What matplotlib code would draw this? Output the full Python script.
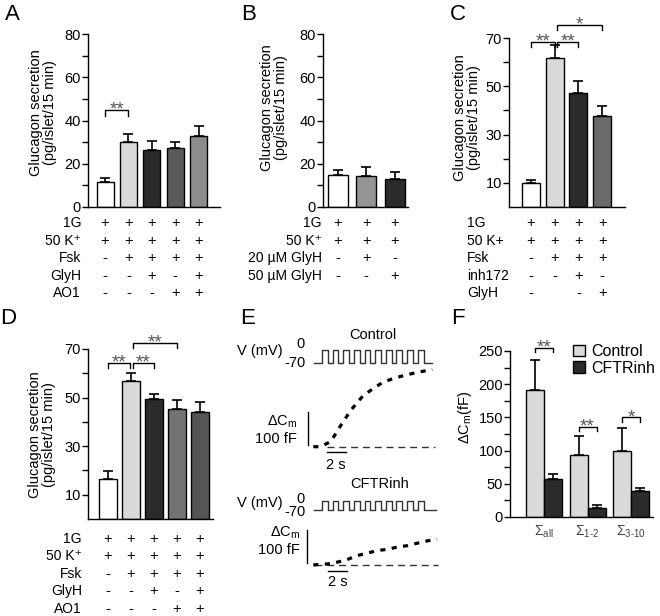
import matplotlib
matplotlib.use("Agg")
import matplotlib.pyplot as plt
import numpy as np
from matplotlib.transforms import blended_transform_factory

plt.rcParams["font.family"] = ["Liberation Sans", "DejaVu Sans"]
plt.rcParams["mathtext.fontset"] = "custom"
plt.rcParams["mathtext.rm"] = "Liberation Sans"
plt.rcParams["axes.linewidth"] = 1.0

W, H = 660, 616

# ---------------- data ----------------
# A
a_vals = [11.6, 30.2, 26.3, 27.1, 32.8]
a_errs = [2.0, 3.4, 4.2, 3.1, 4.7]
a_colors = ["white", "#d9d9d9", "#2b2b2b", "#5a5a5a", "#8c8c8c"]
a_rows = ["1G", "50 K⁺", "Fsk", "GlyH", "AO1"]
a_marks = [["+", "+", "+", "+", "+"],
           ["+", "+", "+", "+", "+"],
           ["-", "+", "+", "+", "+"],
           ["-", "-", "+", "-", "+"],
           ["-", "-", "-", "+", "+"]]

# B
b_vals = [15.0, 14.4, 13.0]
b_errs = [2.0, 3.9, 3.1]
b_colors = ["white", "#959595", "#2b2b2b"]
b_rows = ["1G", "50 K⁺", "20 µM GlyH", "50 µM GlyH"]
b_marks = [["+", "+", "+"],
           ["+", "+", "+"],
           ["-", "+", "-"],
           ["-", "-", "+"]]

# C
c_vals = [10.0, 61.6, 47.4, 37.7]
c_errs = [1.1, 5.4, 4.9, 4.3]
c_colors = ["white", "#d9d9d9", "#2b2b2b", "#6a6a6a"]
c_rows = ["1G", "50 K+", "Fsk", "inh172", "GlyH"]
c_marks = [["+", "+", "+", "+"],
           ["+", "+", "+", "+"],
           ["-", "+", "+", "+"],
           ["-", "-", "+", "-"],
           ["-", "", "-", "+"]]

# D
d_vals = [16.6, 56.8, 49.4, 45.3, 43.9]
d_errs = [3.1, 3.3, 1.9, 3.7, 4.1]
d_colors = ["white", "#d9d9d9", "#2b2b2b", "#737373", "#555555"]
d_rows = ["1G", "50 K⁺", "Fsk", "GlyH", "AO1"]
d_marks = a_marks

# E  (time in s, capacitance in fF)
ctrl_t = [0.0, 0.7, 1.8, 2.8, 3.9, 5.0, 6.1, 7.2, 8.3, 9.3, 10.3, 11.3, 12.3]
ctrl_cm = [0, 0, 15, 62, 110, 148, 173, 193, 205, 213, 220, 226, 232]
inh_t = [0.0, 0.7, 1.4, 2.4, 3.4, 4.5, 5.5, 6.6, 7.6, 8.6, 9.7, 10.7, 11.9, 12.8]
inh_cm = [0, 2, 3, 8, 15, 28, 35, 43, 47, 53, 58, 65, 73, 77]
pulse_starts = [0.9, 2.0, 3.1, 4.2, 5.3, 6.4, 7.5, 8.6, 9.7, 10.8]
pulse_width = 0.6

# F
f_groups = ["Σ$_{\\rm all}$", "Σ$_{\\rm 1\\text{-}2}$", "Σ$_{\\rm 3\\text{-}10}$"]
f_ctrl = [191.8, 92.9, 98.9]
f_ctrl_err = [45.2, 28.6, 35.6]
f_inh = [57.7, 13.6, 38.7]
f_inh_err = [7.1, 4.0, 5.5]

fig = plt.figure(figsize=(6.6, 6.16), dpi=100)


def box(x0, y0, x1, y1):
    return [x0 / W, 1 - y1 / H, (x1 - x0) / W, (y1 - y0) / H]


def bar_panel(px, c0, sp, wpx, vals, errs, colors, ylim, major, minor):
    x0, y0, x1, y1 = px
    ax = fig.add_axes(box(*px))
    x = np.arange(len(vals))
    ax.errorbar(x, vals, yerr=[np.zeros(len(vals)), errs], fmt="none",
                ecolor="black", elinewidth=1.2, capsize=3.5, capthick=1.2, zorder=1)
    ax.bar(x, vals, width=wpx / sp, color=colors, edgecolor="black", linewidth=1, zorder=2)
    ax.set_xlim((x0 - c0) / sp, (x1 - c0) / sp)
    ax.set_ylim(*ylim)
    ax.set_yticks(major)
    ax.set_yticks(minor, minor=True)
    ax.set_xticks([])
    ax.spines[["top", "right"]].set_visible(False)
    ax.tick_params(axis="y", which="both", direction="out", length=4, width=1,
                   labelsize=10.5, pad=1)
    ax.patch.set_alpha(0)
    return ax


def table(ax, rows, marks, rows_y, label_x, ha):
    tr = blended_transform_factory(ax.transData, fig.transFigure)
    for lab, r, y in zip(rows, marks, rows_y):
        fig.text(label_x / W, 1 - y / H, lab, ha=ha, va="center", fontsize=10)
        for j, m in enumerate(r):
            ax.text(j, 1 - y / H, m, transform=tr, ha="center", va="center", fontsize=10.5)


def bracket(ax, xa, xb, y, h, txt):
    ax.plot([xa, xa, xb, xb], [y - h, y, y, y - h], color="black", lw=1, clip_on=False)
    ax.annotate(txt, xy=((xa + xb) / 2, y), xytext=(0, -3.5), textcoords="offset points",
                ha="center", va="baseline", fontsize=13.5, color="#555555",
                annotation_clip=False)


def ylab(x, y, s):
    fig.text(x / W, 1 - y / H, s, rotation=90, ha="center", va="center",
             fontsize=10.5, multialignment="center", linespacing=1.05)


glu = "Glucagon secretion\n(pg/islet/15 min)"

# ---- A ----
axA = bar_panel((88, 34, 220, 207), 105, 23.4, 17, a_vals, a_errs, a_colors,
                (0, 80), [0, 20, 40, 60, 80], [10, 30, 50, 70])
table(axA, a_rows, a_marks, [223, 241, 258, 276, 293], 81, "right")
bracket(axA, 0, 1, 45, 3, "**")
ylab(43, 113, glu)

# ---- B ----
axB = bar_panel((323, 34, 408, 207), 338, 28.3, 20, b_vals, b_errs, b_colors,
                (0, 80), [0, 20, 40, 60, 80], [10, 30, 50, 70])
table(axB, b_rows, b_marks, [223, 241, 258, 276], 322, "right")
ylab(274, 108, glu)

# ---- C ----
axC = bar_panel((509, 38, 625, 207), 531, 23.7, 18, c_vals, c_errs, c_colors,
                (0, 70), [10, 30, 50, 70], [20, 40, 60])
table(axC, c_rows, c_marks, [223, 241, 258, 276, 293], 467, "left")
bracket(axC, 0, 1, 68.3, 2, "**")
bracket(axC, 1.1, 2, 68.3, 2, "**")
bracket(axC, 1.1, 3, 75.4, 2, "*")
ylab(467, 118, glu)

# ---- D ----
axD = bar_panel((88, 349, 213, 519), 108, 22.9, 18, d_vals, d_errs, d_colors,
                (0, 70), [10, 30, 50, 70], [20, 40, 60])
table(axD, d_rows, d_marks, [539, 556, 574, 591, 609], 82, "right")
bracket(axD, 0, 0.95, 64.2, 2, "**")
bracket(axD, 1.1, 2, 64.2, 2, "**")
bracket(axD, 1.1, 3, 72.5, 2, "**")
ylab(42, 435, glu)

# ---- E ----
T0, PXS = 313.3, 9.67


def trace_axes(px0, px1, py0, py1, base_py, px_unit, base_val):
    ax = fig.add_axes(box(px0, py0, px1, py1))
    ax.set_xlim((px0 - T0) / PXS, (px1 - T0) / PXS)
    ax.set_ylim(base_val - (py1 - base_py) / px_unit, base_val + (base_py - py0) / px_unit)
    ax.axis("off")
    return ax


def pulse_trace(ax, t_start, t_end, starts, width):
    tt, vv = [t_start], [-70]
    for s in starts:
        tt += [s, s, s + width, s + width]
        vv += [-70, 0, 0, -70]
    tt.append(t_end)
    vv.append(-70)
    ax.plot(tt, vv, color="#333333", lw=1)


def cm_trace(ax, t, cm, base_from, base_to, vbar_t, hbar_t, hbar_y):
    ax.plot([base_from, base_to], [0, 0], color="#333333", lw=1, dashes=(5, 3.5))
    ax.plot(t, cm, color="black", lw=2.3, dashes=(1.6, 2.0), solid_capstyle="butt")
    ax.plot([vbar_t, vbar_t], [5, 105], color="black", lw=1)
    ax.plot([hbar_t, hbar_t + 2], [hbar_y, hbar_y], color="black", lw=1)


axEv1 = trace_axes(300, 445, 335, 372, 363, 13.3 / 70, -70)
pulse_trace(axEv1, 0.1, 12.3, pulse_starts, pulse_width)
axEc1 = trace_axes(300, 445, 365, 475, 446.7, 1 / 3, 0)
cm_trace(axEc1, ctrl_t, ctrl_cm, 1.4, 12.6, -0.52, 1.38, -15)

axEv2 = trace_axes(300, 445, 490, 520, 510, 9.3 / 70, -70)
pulse_trace(axEv2, 0.1, 12.7, pulse_starts, pulse_width)
axEc2 = trace_axes(300, 445, 515, 590, 565, 1 / 3, 0)
cm_trace(axEc2, inh_t, inh_cm, 0.2, 12.9, -0.62, 1.52, -17)

etxt = dict(fontsize=10.5)
fig.text(373 / W, 1 - 335 / H, "Control", ha="center", va="center", **etxt)
fig.text(237 / W, 1 - 351 / H, "V (mV)", ha="left", va="center", **etxt)
fig.text(305 / W, 1 - 344 / H, "0", ha="right", va="center", **etxt)
fig.text(306 / W, 1 - 363 / H, "-70", ha="right", va="center", **etxt)
fig.text(297 / W, 1 - 422 / H, "ΔC$_{\\rm m}$", ha="right", va="center", **etxt)
fig.text(297 / W, 1 - 439 / H, "100 fF", ha="right", va="center", **etxt)
fig.text(336 / W, 1 - 465 / H, "2 s", ha="center", va="center", **etxt)

fig.text(380 / W, 1 - 484 / H, "CFTRinh", ha="center", va="center", **etxt)
fig.text(237 / W, 1 - 503 / H, "V (mV)", ha="left", va="center", **etxt)
fig.text(305 / W, 1 - 499 / H, "0", ha="right", va="center", **etxt)
fig.text(306 / W, 1 - 512 / H, "-70", ha="right", va="center", **etxt)
fig.text(300 / W, 1 - 533 / H, "ΔC$_{\\rm m}$", ha="right", va="center", **etxt)
fig.text(300 / W, 1 - 550 / H, "100 fF", ha="right", va="center", **etxt)
fig.text(338 / W, 1 - 582 / H, "2 s", ha="center", va="center", **etxt)

# ---- F ----
axF = fig.add_axes(box(510, 351, 653, 517))
gx = np.arange(len(f_groups))
bw = 18 / 43.5
for xs, v, e, col, lab in [(gx - bw / 2, f_ctrl, f_ctrl_err, "#d9d9d9", "Control"),
                           (gx + bw / 2, f_inh, f_inh_err, "#2b2b2b", "CFTRinh")]:
    axF.errorbar(xs, v, yerr=[np.zeros(len(v)), e], fmt="none", ecolor="black",
                 elinewidth=1.2, capsize=3.5, capthick=1.2, zorder=1)
    axF.bar(xs, v, width=bw, color=col, edgecolor="black", linewidth=1, zorder=2, label=lab)
axF.set_xlim((510 - 544) / 43.5, (653 - 544) / 43.5)
axF.set_ylim(0, 250)
axF.set_yticks([0, 50, 100, 150, 200, 250])
axF.set_yticks([25, 75, 125, 175, 225], minor=True)
axF.set_xticks(gx)
axF.set_xticklabels(f_groups, fontsize=10, color="#444444")
axF.tick_params(axis="x", length=0, pad=5)
axF.tick_params(axis="y", which="both", direction="out", length=4, width=1,
                labelsize=10.5, pad=1)
axF.spines[["top", "right"]].set_visible(False)
axF.patch.set_alpha(0)
bracket(axF, -bw / 2, bw / 2, 255, 7, "**")
bracket(axF, 1 - bw / 2, 1 + bw / 2, 136, 7, "**")
bracket(axF, 2 - bw / 2, 2 + bw / 2, 150, 7, "*")
axF.legend(loc="upper left", bbox_to_anchor=(573 / W, 1 - 344 / H),
           bbox_transform=fig.transFigure, frameon=False, fontsize=11.5,
           handlelength=0.75, handleheight=0.75, handletextpad=0.4,
           labelspacing=0.1, borderaxespad=0, borderpad=0)
fig.text(465 / W, 1 - 417 / H, "ΔC$_{\\rm m}$(fF)", rotation=90, ha="center",
         va="center", fontsize=10.5)

# ---- panel letters ----
for lab, x, y in [("A", 12, 15), ("B", 249, 15), ("C", 458, 15),
                  ("D", 8, 318), ("E", 248, 318), ("F", 458, 318)]:
    fig.text(x / W, 1 - y / H, lab, ha="center", va="center", fontsize=16)

fig.savefig("out.png", dpi=100)
